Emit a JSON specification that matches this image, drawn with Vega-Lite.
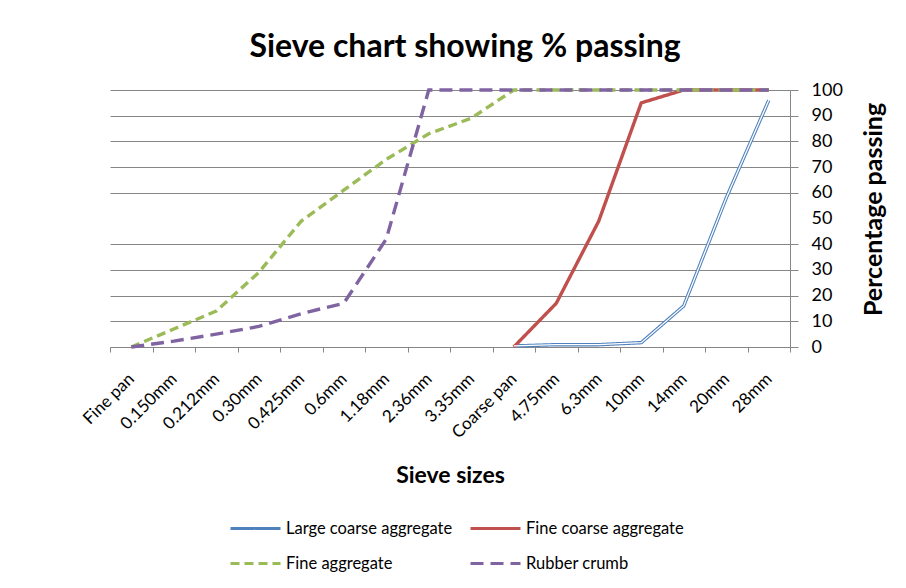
{
  "$schema": "https://vega.github.io/schema/vega-lite/v6.json",
  "width": 680,
  "height": 257,
  "autosize": {"type": "none"},
  "padding": {"left": 110, "top": 90, "right": 116, "bottom": 241},
  "background": "white",
  "config": {"font": "Lato", "view": {"stroke": null}},
  "title": {"text": "Sieve chart showing % passing", "fontSize": 32, "fontWeight": "bold", "color": "black", "anchor": "middle", "dx": 15, "offset": 17},
  "data": {"values": [
    {"series": "Large coarse aggregate", "sieve": "Coarse pan", "pct": 0.4},
    {"series": "Large coarse aggregate", "sieve": "4.75mm", "pct": 0.9},
    {"series": "Large coarse aggregate", "sieve": "6.3mm", "pct": 0.9},
    {"series": "Large coarse aggregate", "sieve": "10mm", "pct": 1.7},
    {"series": "Large coarse aggregate", "sieve": "14mm", "pct": 16},
    {"series": "Large coarse aggregate", "sieve": "20mm", "pct": 58},
    {"series": "Large coarse aggregate", "sieve": "28mm", "pct": 96},
    {"series": "Fine coarse aggregate", "sieve": "Coarse pan", "pct": 0},
    {"series": "Fine coarse aggregate", "sieve": "4.75mm", "pct": 17},
    {"series": "Fine coarse aggregate", "sieve": "6.3mm", "pct": 49},
    {"series": "Fine coarse aggregate", "sieve": "10mm", "pct": 95},
    {"series": "Fine coarse aggregate", "sieve": "14mm", "pct": 100},
    {"series": "Fine coarse aggregate", "sieve": "20mm", "pct": 100},
    {"series": "Fine coarse aggregate", "sieve": "28mm", "pct": 100},
    {"series": "Fine aggregate", "sieve": "Fine pan", "pct": 0},
    {"series": "Fine aggregate", "sieve": "0.150mm", "pct": 7},
    {"series": "Fine aggregate", "sieve": "0.212mm", "pct": 14},
    {"series": "Fine aggregate", "sieve": "0.30mm", "pct": 29},
    {"series": "Fine aggregate", "sieve": "0.425mm", "pct": 49},
    {"series": "Fine aggregate", "sieve": "0.6mm", "pct": 61},
    {"series": "Fine aggregate", "sieve": "1.18mm", "pct": 73},
    {"series": "Fine aggregate", "sieve": "2.36mm", "pct": 83},
    {"series": "Fine aggregate", "sieve": "3.35mm", "pct": 89},
    {"series": "Fine aggregate", "sieve": "Coarse pan", "pct": 100},
    {"series": "Fine aggregate", "sieve": "4.75mm", "pct": 100},
    {"series": "Fine aggregate", "sieve": "6.3mm", "pct": 100},
    {"series": "Fine aggregate", "sieve": "10mm", "pct": 100},
    {"series": "Fine aggregate", "sieve": "14mm", "pct": 100},
    {"series": "Fine aggregate", "sieve": "20mm", "pct": 100},
    {"series": "Fine aggregate", "sieve": "28mm", "pct": 100},
    {"series": "Rubber crumb", "sieve": "Fine pan", "pct": 0},
    {"series": "Rubber crumb", "sieve": "0.150mm", "pct": 2.3},
    {"series": "Rubber crumb", "sieve": "0.212mm", "pct": 5},
    {"series": "Rubber crumb", "sieve": "0.30mm", "pct": 8},
    {"series": "Rubber crumb", "sieve": "0.425mm", "pct": 13},
    {"series": "Rubber crumb", "sieve": "0.6mm", "pct": 17},
    {"series": "Rubber crumb", "sieve": "1.18mm", "pct": 42},
    {"series": "Rubber crumb", "sieve": "2.36mm", "pct": 100},
    {"series": "Rubber crumb", "sieve": "3.35mm", "pct": 100},
    {"series": "Rubber crumb", "sieve": "Coarse pan", "pct": 100},
    {"series": "Rubber crumb", "sieve": "4.75mm", "pct": 100},
    {"series": "Rubber crumb", "sieve": "6.3mm", "pct": 100},
    {"series": "Rubber crumb", "sieve": "10mm", "pct": 100},
    {"series": "Rubber crumb", "sieve": "14mm", "pct": 100},
    {"series": "Rubber crumb", "sieve": "20mm", "pct": 100},
    {"series": "Rubber crumb", "sieve": "28mm", "pct": 100}
  ]},
  "encoding": {
    "x": {
      "field": "sieve", "type": "nominal",
      "scale": {"type": "band", "paddingInner": 0, "paddingOuter": 0,
        "domain": ["Fine pan","0.150mm","0.212mm","0.30mm","0.425mm","0.6mm","1.18mm","2.36mm","3.35mm","Coarse pan","4.75mm","6.3mm","10mm","14mm","20mm","28mm"]},
      "axis": {
        "title": "Sieve sizes", "titleFontSize": 23, "titleFontWeight": "bold", "titleColor": "black", "titlePadding": 24,
        "labelAngle": -45, "labelAlign": "right", "labelBaseline": "middle", "labelFontSize": 17, "labelColor": "black",
        "labelPadding": 24, "tickSize": 5, "tickBand": "extent", "tickColor": "#868686", "domainColor": "#868686",
        "grid": false, "labelOverlap": false
      }
    },
    "y": {
      "field": "pct", "type": "quantitative",
      "scale": {"domain": [0, 100], "nice": false},
      "axis": {
        "orient": "right", "values": [0,10,20,30,40,50,60,70,80,90,100],
        "title": "Percentage passing", "titleFontSize": 25, "titleFontWeight": "bold", "titleColor": "black", "titleAngle": 270, "titlePadding": 44, "titleY": 119,
        "labelFontSize": 18, "labelColor": "black", "labelPadding": 13, "tickSize": 8,
        "grid": true,
        "gridColor": {"condition": {"test": "datum.value === 50", "value": "rgba(0,0,0,0)"}, "value": "#868686"},
        "tickColor": {"condition": {"test": "datum.value === 50", "value": "rgba(0,0,0,0)"}, "value": "#868686"},
        "domainColor": "#868686"
      }
    }
  },
  "layer": [
    {
      "mark": {"type": "line", "strokeWidth": 3.4},
      "encoding": {
        "color": {
          "field": "series", "type": "nominal",
          "scale": {"domain": ["Large coarse aggregate", "Fine coarse aggregate", "Fine aggregate", "Rubber crumb"],
                    "range": ["#4F81BD", "#C0504D", "#9BBB59", "#8064A2"]},
          "legend": {"orient": "none", "legendX": 119, "legendY": 412, "columns": 2, "direction": "horizontal", "title": null,
                     "symbolType": "stroke", "symbolSize": 2500, "symbolStrokeWidth": 3,
                     "labelFontSize": 16.5, "labelLimit": 400, "labelColor": "black", "rowPadding": -15, "columnPadding": 11, "labelOffset": 4, "gridAlign": "all"}
        },
        "strokeDash": {
          "field": "series", "type": "nominal",
          "scale": {"domain": ["Large coarse aggregate", "Fine coarse aggregate", "Fine aggregate", "Rubber crumb"],
                    "range": [[1, 0], [1, 0], [9, 5], [13, 7]]},
          "legend": {"orient": "none", "legendX": 119, "legendY": 412, "columns": 2, "direction": "horizontal", "title": null,
                     "symbolType": "stroke", "symbolSize": 2500, "symbolStrokeWidth": 3,
                     "labelFontSize": 16.5, "labelLimit": 400, "labelColor": "black", "rowPadding": -15, "columnPadding": 11, "labelOffset": 4, "gridAlign": "all"}
        }
      }
    },
    {
      "transform": [{"filter": "datum.series === 'Large coarse aggregate'"}],
      "mark": {"type": "line", "strokeWidth": 1.3, "color": "white"}
    }
  ]
}
